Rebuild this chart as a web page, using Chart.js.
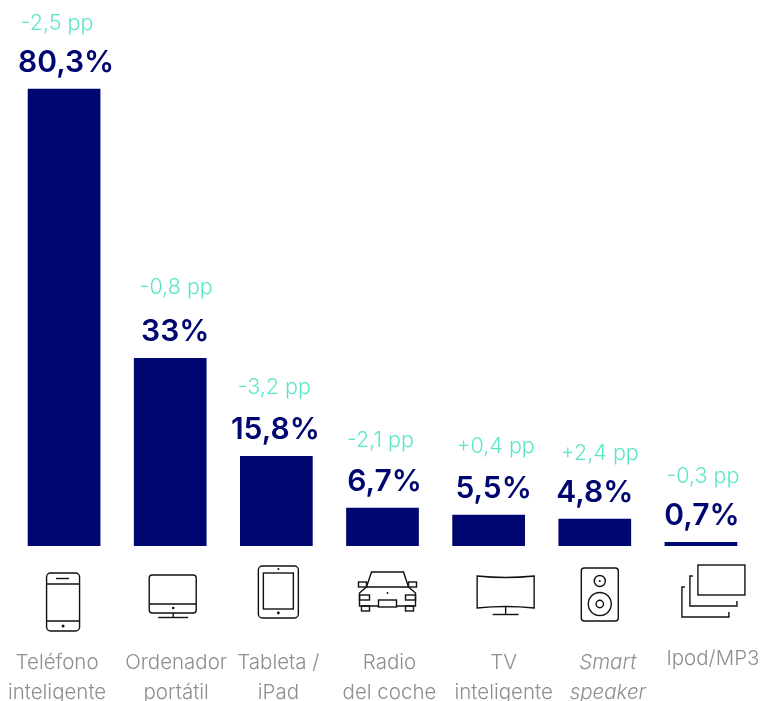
<!DOCTYPE html>
<html>
<head>
<meta charset="utf-8">
<script src="https://cdn.jsdelivr.net/npm/chart.js@4"></script>
<style>
  html, body { margin: 0; padding: 0; background: #fff; }
  #wrap { width: 763px; height: 701px; }
</style>
</head>
<body>
<div id="wrap"><canvas id="graphId"></canvas></div>
<script>
// data
const labels = [['Teléfono', 'inteligente'], ['Ordenador', 'portátil'], ['Tableta /', 'iPad'], ['Radio', 'del coche'], ['TV', 'inteligente'], ['Smart', 'speaker'], ['Ipod/MP3']];
const values = [80.3, 33, 15.8, 6.7, 5.5, 4.8, 0.7];
const valueLabels = ['80,3%', '33%', '15,8%', '6,7%', '5,5%', '4,8%', '0,7%'];
const changeLabels = ['-2,5 pp', '-0,8 pp', '-3,2 pp', '-2,1 pp', '+0,4 pp', '+2,4 pp', '-0,3 pp'];

// the labels do not sit exactly over the bars in the original
const valueShift = [2, 5, -1, 2, 5, 0, 1];
const changeShift = [-7, 6, -2, -2, 7, 5, 2];
const changeLift = [59, 64, 62, 61, 62, 59, 59];
const nameShift = [-7, 6, 2, 7, 15, 13, 12];
const iconShift = [-1, 3, 2, 5, 17, 5, 12];

const NAVY = '#00066f';
const TEAL = '#5ce5c9';
const GREY = '#8e8e8e';
const ICON = '#111111';

function line(c, pts) {
  c.beginPath();
  pts.forEach((p, i) => i ? c.lineTo(p[0], p[1]) : c.moveTo(p[0], p[1]));
  c.stroke();
}
function rrect(c, x, y, w, h, r) {
  c.beginPath();
  c.roundRect(x, y, w, h, r);
  c.stroke();
}
function circle(c, x, y, r, fill) {
  c.beginPath();
  c.arc(x, y, r, 0, Math.PI * 2);
  if (fill) c.fill(); else c.stroke();
}

// icons are drawn around (0,0), the point under the middle of each column
const icons = [
  function (c) { // phone
    rrect(c, -16.5, -29, 33, 58, 4);
    line(c, [[-16.5, -18], [16.5, -18]]);
    line(c, [[-16.5, 19], [16.5, 19]]);
    line(c, [[-7, -23.5], [6, -23.5]]);
    circle(c, 0, 24, 1.5, true);
  },
  function (c) { // monitor
    rrect(c, -24, -27, 47, 38, 3);
    line(c, [[-24, 2], [23, 2]]);
    circle(c, 0, 6, 1.3, true);
    line(c, [[0, 11], [0, 15]]);
    line(c, [[-15, 15.5], [15, 15.5]]);
  },
  function (c) { // tablet
    rrect(c, -20, -36, 40, 52, 4);
    c.strokeRect(-15, -29, 30, 36);
    circle(c, 0, -33, 1, true);
    circle(c, 0, 11, 1.4, true);
  },
  function (c) { // car
    line(c, [[-21, -15], [-16, -30], [16, -30], [21, -15]]);
    line(c, [[-9, 4], [-28, 4], [-28, -9], [-21, -15], [21, -15], [28, -9], [28, 4], [9, 4]]);
    c.strokeRect(-29, -20, 8, 5);
    c.strokeRect(21, -20, 8, 5);
    c.strokeRect(-28, -7, 10, 5);
    c.strokeRect(18, -7, 10, 5);
    c.strokeRect(-26, 4, 8, 5);
    c.strokeRect(18, 4, 8, 5);
    c.strokeRect(-9, -2, 18, 7);
    line(c, [[0, -10], [0, -8]]);
  },
  function (c) { // curved tv
    c.beginPath();
    c.moveTo(-28.5, -26);
    c.quadraticCurveTo(0, -23, 28.5, -26);
    c.lineTo(28.5, 6);
    c.quadraticCurveTo(0, 3, -28.5, 6);
    c.closePath();
    c.stroke();
    line(c, [[0, 5], [0, 12]]);
    line(c, [[-13, 12.5], [13, 12.5]]);
  },
  function (c) { // speaker
    rrect(c, -18.5, -34, 37, 53, 3);
    circle(c, 0, -21, 5.5);
    circle(c, 0, -21, 1, true);
    circle(c, 0, 2, 11.5);
    circle(c, 0, 2, 3.7);
  },
  function (c) { // stacked frames
    c.strokeRect(-15, -37, 47, 30);
    line(c, [[-20, -26], [-23, -26], [-23, 4], [24, 4], [24, -1]]);
    line(c, [[-28, -15], [-31, -15], [-31, 15], [16, 15], [16, 10]]);
  }
];

const drawExtras = {
  id: 'drawExtras',
  afterDatasetsDraw(chart) {
    const c = chart.ctx;
    const xs = chart.scales.x;
    const ys = chart.scales.y;
    c.save();
    c.textAlign = 'center';
    c.textBaseline = 'alphabetic';
    values.forEach((v, i) => {
      const x = xs.getPixelForValue(i);
      const top = ys.getPixelForValue(v);

      c.fillStyle = NAVY;
      c.font = '600 30px Inter';
      c.fillText(valueLabels[i], x + valueShift[i], top - 17);

      c.fillStyle = TEAL;
      c.font = '300 21.5px Inter';
      c.fillText(changeLabels[i], x + changeShift[i], top - changeLift[i]);

      // icon
      c.save();
      c.translate(x + iconShift[i], 602);
      c.strokeStyle = ICON;
      c.fillStyle = ICON;
      c.lineWidth = 1.4;
      icons[i](c);
      c.restore();

      // category name
      c.fillStyle = GREY;
      c.font = (i === 5 ? 'italic ' : '') + '300 20.5px Inter';
      labels[i].forEach((t, k) => {
        const y = (labels[i].length === 1 ? 665 : 669) + k * 30;
        c.fillText(t, x + nameShift[i], y);
      });
    });
    c.restore();
  }
};

const ctx = document.getElementById('graphId').getContext('2d');
const myChart = new Chart(ctx, {
  type: 'bar',
  data: {
    labels: labels,
    datasets: [{
      data: values,
      backgroundColor: NAVY,
      barPercentage: 0.685,
      categoryPercentage: 1
    }]
  },
  options: {
    responsive: true,
    maintainAspectRatio: false,
    animation: false,
    layout: { padding: { left: 11, right: 9, top: 5, bottom: 155 } },
    plugins: { legend: { display: false }, tooltip: { enabled: false } },
    scales: {
      x: { display: false },
      y: { display: false, min: 0, max: 95 }
    }
  },
  plugins: [drawExtras]
});
</script>
</body>
</html>
